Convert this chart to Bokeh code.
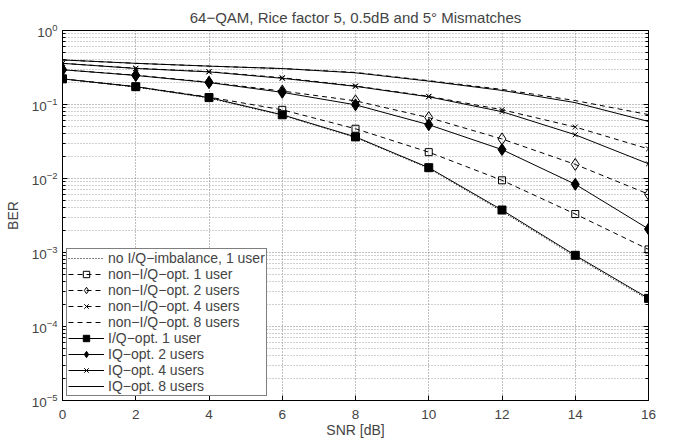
from bokeh.plotting import figure
from bokeh.models import (LogAxis, FixedTicker, LogTickFormatter, Legend, LegendItem, Range1d,
                          CustomJSTickFormatter)
from bokeh.embed import file_html
from bokeh.resources import INLINE

snr = [0, 2, 4, 6, 8, 10, 12, 14, 16]
ber_noimb = [0.222, 0.172, 0.122, 0.0715, 0.0358, 0.0137, 0.0036, 0.00088, 0.00023]
ber_non1 = [0.222, 0.174, 0.126, 0.0847, 0.047, 0.0227, 0.00946, 0.00331, 0.0011]
ber_non2 = [0.295, 0.249, 0.200, 0.152, 0.112, 0.0665, 0.0342, 0.0155, 0.00614]
ber_non4 = [0.36, 0.309, 0.278, 0.23, 0.178, 0.129, 0.085, 0.0496, 0.0251]
ber_non8 = [0.40, 0.36, 0.33, 0.306, 0.271, 0.21, 0.16, 0.113, 0.073]
ber_opt1 = [0.222, 0.174, 0.124, 0.0726, 0.0365, 0.014, 0.00375, 0.000916, 0.00024]
ber_opt2 = [0.295, 0.247, 0.198, 0.146, 0.099, 0.0533, 0.0246, 0.00836, 0.00208]
ber_opt4 = [0.36, 0.307, 0.276, 0.226, 0.176, 0.127, 0.08, 0.039, 0.0158]
ber_opt8 = [0.40, 0.36, 0.33, 0.306, 0.268, 0.207, 0.155, 0.106, 0.059]

labels = ["no I/Q\u2212imbalance, 1 user", "non\u2212I/Q\u2212opt. 1 user", "non\u2212I/Q\u2212opt. 2 users",
          "non\u2212I/Q\u2212opt. 4 users", "non\u2212I/Q\u2212opt. 8 users", "I/Q\u2212opt. 1 user",
          "IQ\u2212opt. 2 users", "IQ\u2212opt. 4 users", "IQ\u2212opt. 8 users"]
title_text = "64\u2212QAM, Rice factor 5, 0.5dB and 5\u00b0 Mismatches"
x_ticks = [0, 2, 4, 6, 8, 10, 12, 14, 16]
y_ticks = [1e-5, 1e-4, 1e-3, 1e-2, 1e-1, 1e0]
y_minor = [m * 10.0 ** e for e in range(-5, 0) for m in range(2, 10)]

FONT = "Liberation Sans"

p = figure(width=670, height=440, y_axis_type="log", x_range=Range1d(0, 16), y_range=Range1d(1e-5, 1),
           output_backend="svg", toolbar_location=None,
           min_border_left=62, min_border_right=22, min_border_top=30, min_border_bottom=37)
p.title.text = title_text
p.title.align = "center"
p.title.text_font = FONT
p.title.text_font_size = "15px"
p.title.text_font_style = "normal"
p.title.standoff = 9
p.outline_line_color = "black"
p.outline_line_width = 1

p.xaxis.ticker = FixedTicker(ticks=x_ticks)
p.yaxis.ticker = FixedTicker(ticks=y_ticks, minor_ticks=y_minor)
p.yaxis.formatter = LogTickFormatter()
for ax in [p.xaxis[0], p.yaxis[0]]:
    ax.major_tick_in = 5
    ax.major_tick_out = 0
    ax.minor_tick_in = 3
    ax.minor_tick_out = 0
    ax.major_label_text_font = FONT
    ax.major_label_text_font_size = "13.5px"
    ax.axis_label_text_font = FONT
    ax.axis_label_text_font_size = "14px"
    ax.axis_label_text_font_style = "normal"
    ax.axis_line_color = "black"
p.xaxis.major_label_standoff = 9
p.yaxis.major_label_standoff = 5
p.xaxis.axis_label = "SNR [dB]"
p.yaxis.axis_label = "BER"
p.xaxis.axis_label_standoff = 0
p.yaxis.axis_label_standoff = 8

right = LogAxis(ticker=FixedTicker(ticks=y_ticks, minor_ticks=y_minor), formatter=CustomJSTickFormatter(code="return ''"),
                major_tick_in=5, major_tick_out=0, minor_tick_in=3, minor_tick_out=0, major_label_standoff=0)
p.add_layout(right, "right")

p.xgrid.ticker = p.xaxis[0].ticker
p.ygrid.ticker = p.yaxis[0].ticker
for g in [p.xgrid[0], p.ygrid[0]]:
    g.grid_line_color = "#808080"
    g.grid_line_dash = "1 2"
    g.grid_line_width = 1
p.ygrid.minor_grid_line_color = "#a0a0a0"
p.ygrid.minor_grid_line_dash = "1 2"

DASH = "5 4"
items = []

def add(y, label, dash, marker=None, fill=True, size=8):
    rs = [p.line(snr, y, line_color="black", line_width=1, line_dash=dash)]
    if marker:
        rs.append(p.scatter(snr, y, marker=marker, size=size, line_color="black",
                            fill_color="black" if fill else None, line_width=1))
    items.append(LegendItem(label=label, renderers=rs))

add(ber_noimb, labels[0], "1 2")
add(ber_non1, labels[1], DASH, "square", False, 7)
add(ber_non2, labels[2], DASH, "diamond", False, 12)
add(ber_non4, labels[3], DASH, "x", False, 7)
add(ber_non8, labels[4], DASH)
add(ber_opt1, labels[5], "solid", "square", True, 8)
add(ber_opt2, labels[6], "solid", "diamond", True, 12)
add(ber_opt4, labels[7], "solid", "x", False, 7)
add(ber_opt8, labels[8], "solid")

legend = Legend(items=items, location="bottom_left", border_line_color="black", border_line_width=1,
                label_text_font=FONT, label_text_font_size="14px", glyph_width=36, glyph_height=16,
                label_height=16, spacing=0, padding=1, margin=4, label_standoff=4,
                background_fill_alpha=1)
p.add_layout(legend, "center")

open("out.html", "w").write(file_html(p, INLINE))
